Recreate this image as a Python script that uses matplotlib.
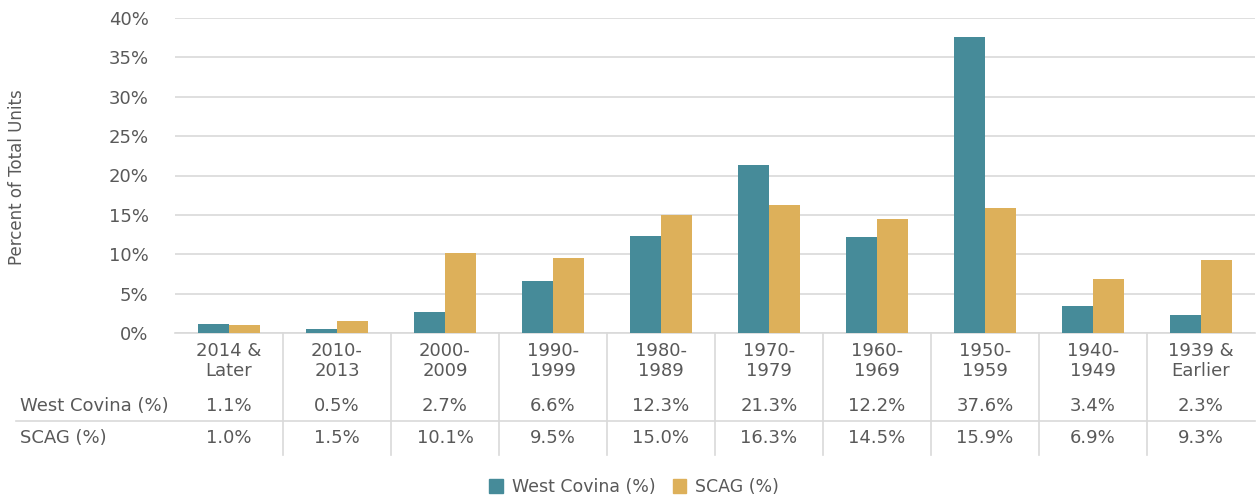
import matplotlib
matplotlib.use('agg')
import matplotlib.pyplot as plt
import numpy as np
from matplotlib.patches import Patch

categories = ["2014 &\nLater", "2010-\n2013", "2000-\n2009", "1990-\n1999", "1980-\n1989",
              "1970-\n1979", "1960-\n1969", "1950-\n1959", "1940-\n1949", "1939 &\nEarlier"]
west_covina = [1.1, 0.5, 2.7, 6.6, 12.3, 21.3, 12.2, 37.6, 3.4, 2.3]
scag = [1.0, 1.5, 10.1, 9.5, 15.0, 16.3, 14.5, 15.9, 6.9, 9.3]
series_names = ["West Covina (%)", "SCAG (%)"]

teal = '#468B99'
gold = '#DDB05A'
txt = '#595959'
grid = '#D9D9D9'

plt.rcParams['font.family'] = ['DejaVu Sans']

fig = plt.figure(figsize=(12.6, 4.97), dpi=100)
ax = fig.add_axes([175/1260, 1-333/497, 1080/1260, 315/497])

x = np.arange(len(categories))
w = 0.287
ax.bar(x - w/2, west_covina, w, color=teal, zorder=3)
ax.bar(x + w/2, scag, w, color=gold, zorder=3)

ax.set_xlim(-0.5, len(categories) - 0.5)
ax.set_ylim(0, 40)
ax.set_yticks(range(0, 41, 5))
ax.set_yticklabels(['{}%'.format(v) for v in range(0, 41, 5)], fontsize=13, color=txt)
ax.tick_params(axis='y', length=0, pad=19)
ax.set_xticks([])
ax.grid(axis='y', color=grid, linewidth=1.2, zorder=0)
for s in ['top', 'right', 'left']:
	ax.spines[s].set_visible(False)
ax.spines['bottom'].set_color(grid)
ax.spines['bottom'].set_linewidth(1.2)

fig.text(17/1260, 1-177/497, "Percent of Total Units", rotation=90, fontsize=12,
         color=txt, ha='center', va='center')

# data table below the axis
def ypos(py):
	return (333 - py) / 315.0

tr = ax.get_xaxis_transform()
for i, c in enumerate(categories):
	ax.text(i, ypos(361), c, transform=tr, ha='center', va='center', fontsize=13,
	        color=txt, linespacing=1.1, clip_on=False)
	ax.text(i, ypos(406), '{:.1f}%'.format(west_covina[i]), transform=tr, ha='center',
	        va='center', fontsize=13, color=txt, clip_on=False)
	ax.text(i, ypos(438), '{:.1f}%'.format(scag[i]), transform=tr, ha='center',
	        va='center', fontsize=13, color=txt, clip_on=False)

for i in range(len(categories) - 1):
	ax.plot([i + 0.5, i + 0.5], [0, ypos(455)], transform=tr, color=grid, lw=1.2, clip_on=False)
ax.plot([-0.5 - 159/108, len(categories) - 0.5], [ypos(421), ypos(421)], transform=tr,
        color=grid, lw=1.2, clip_on=False)

fig.text(20/1260, 1-406/497, series_names[0], fontsize=13, color=txt, ha='left', va='center')
fig.text(20/1260, 1-438/497, series_names[1], fontsize=13, color=txt, ha='left', va='center')

handles = [Patch(color=teal), Patch(color=gold)]
fig.legend(handles, series_names, loc='center', bbox_to_anchor=(634/1260, 1-487/497), ncol=2,
           frameon=False, fontsize=12.5, labelcolor=txt, handlelength=0.8, handleheight=0.8,
           handletextpad=0.5, columnspacing=1.0)

plt.savefig('out.png', dpi=100)
